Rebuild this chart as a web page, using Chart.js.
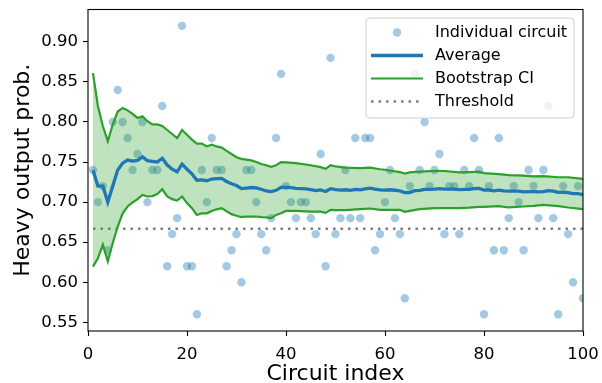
<!DOCTYPE html>
<html>
<head>
<meta charset="utf-8">
<script src="https://cdn.jsdelivr.net/npm/chart.js@4"></script>
<style>
  html, body { margin: 0; padding: 0; background: #fff; }
  #wrap { width: 602px; height: 383px; }
</style>
</head>
<body>
<div id="wrap"><canvas id="c" width="602" height="383"></canvas></div>
<script>
// ---- data ----
const circuitIndex = [1,2,3,4,5,6,7,8,9,10,11,12,13,14,15,16,17,18,19,20,21,22,23,24,25,26,27,28,29,30,31,32,33,34,35,36,37,38,39,40,41,42,43,44,45,46,47,48,49,50,51,52,53,54,55,56,57,58,59,60,61,62,63,64,65,66,67,68,69,70,71,72,73,74,75,76,77,78,79,80,81,82,83,84,85,86,87,88,89,90,91,92,93,94,95,96,97,98,99,100];
const heavyOutputProb = [
  0.74,0.70,0.72,0.64,0.80,0.84,0.80,0.78,0.74,0.76,
  0.80,0.70,0.74,0.74,0.82,0.62,0.66,0.68,0.92,0.62,
  0.62,0.56,0.74,0.70,0.78,0.74,0.74,0.62,0.64,0.66,
  0.60,0.74,0.74,0.70,0.66,0.64,0.68,0.78,0.86,0.72,
  0.70,0.68,0.70,0.70,0.68,0.66,0.76,0.62,0.88,0.66,
  0.68,0.74,0.68,0.78,0.68,0.78,0.78,0.64,0.66,0.70,
  0.74,0.68,0.66,0.58,0.72,0.86,0.74,0.80,0.72,0.74,
  0.76,0.66,0.72,0.72,0.66,0.74,0.72,0.78,0.74,0.56,
  0.72,0.64,0.78,0.64,0.68,0.72,0.70,0.64,0.74,0.72,
  0.68,0.74,0.82,0.68,0.56,0.72,0.66,0.60,0.72,0.58
];
const averageProb = [
  0.7400,0.7200,0.7200,0.7000,0.7200,0.7400,0.7486,0.7525,0.7511,0.7520,
  0.7564,0.7517,0.7508,0.7500,0.7547,0.7463,0.7412,0.7378,0.7474,0.7410,
  0.7352,0.7273,0.7278,0.7267,0.7288,0.7292,0.7296,0.7257,0.7228,0.7207,
  0.7168,0.7175,0.7182,0.7176,0.7160,0.7139,0.7130,0.7147,0.7185,0.7185,
  0.7180,0.7171,0.7167,0.7164,0.7156,0.7143,0.7153,0.7133,0.7167,0.7156,
  0.7149,0.7154,0.7147,0.7159,0.7153,0.7164,0.7175,0.7162,0.7153,0.7150,
  0.7154,0.7148,0.7140,0.7119,0.7120,0.7142,0.7146,0.7159,0.7159,0.7163,
  0.7169,0.7161,0.7162,0.7162,0.7155,0.7158,0.7158,0.7167,0.7170,0.7150,
  0.7151,0.7141,0.7149,0.7140,0.7136,0.7137,0.7136,0.7127,0.7130,0.7131,
  0.7127,0.7130,0.7142,0.7138,0.7122,0.7123,0.7118,0.7106,0.7107,0.7094
];
const ciIndex = [1,2,3,4,5,6,7,8,9,10,11,12,13,14,15,16,17,18,19,20,21,22,23,24,25,26,27,28,29,30,31,32,33,34,35,36,37,38,39,40,
  42,45,47,48,49,50,52,55,57,59,60,63,64,65,67,70,72,75,77,79,80,83,85,88,90,92,95,97,100];
const ciUpper = [
  0.861,0.820,0.795,0.776,0.797,0.813,0.8175,0.8145,0.810,0.805,
  0.807,0.801,0.797,0.797,0.795,0.790,0.785,0.780,0.790,0.784,
  0.778,0.773,0.773,0.7695,0.7716,0.7695,0.768,0.764,0.760,0.756,
  0.754,0.753,0.752,0.750,0.7475,0.746,0.744,0.746,0.750,0.7497,
  0.7487,0.746,0.7437,0.7416,0.746,0.7445,0.743,0.7425,0.743,0.741,
  0.7404,0.7375,0.7357,0.737,0.738,0.739,0.7388,0.737,0.7375,0.738,
  0.7362,0.735,0.7337,0.733,0.732,0.7325,0.731,0.731,0.729
];
const ciLower = [
  0.6195,0.630,0.647,0.626,0.649,0.6695,0.686,0.6945,0.6995,0.7037,
  0.709,0.707,0.7075,0.710,0.716,0.707,0.7037,0.702,0.707,0.6987,
  0.6925,0.684,0.686,0.686,0.689,0.691,0.6925,0.6886,0.685,0.683,
  0.6813,0.682,0.682,0.682,0.6813,0.681,0.680,0.684,0.686,0.689,
  0.689,0.688,0.688,0.6866,0.6904,0.690,0.690,0.6912,0.692,0.6904,
  0.6904,0.6904,0.6879,0.689,0.6912,0.6925,0.6925,0.6925,0.693,0.694,
  0.694,0.695,0.6933,0.6945,0.6954,0.6966,0.695,0.6933,0.6912
];
const thresholdX = [1, 100];
const thresholdValue = 0.6667;
const xTicks = [0, 20, 40, 60, 80, 100];
const yTicks = [0.55, 0.60, 0.65, 0.70, 0.75, 0.80, 0.85, 0.90];
const legendLabels = ['Individual circuit', 'Average', 'Bootstrap CI', 'Threshold'];

// ---- styles ----
const FONT = '"DejaVu Sans", "Liberation Sans", sans-serif';
const C0 = '#1f77b4', C2 = '#2ca02c';
const pointColor = 'rgba(31,119,180,0.4)';

const pts = (xs, ys) => xs.map((x, i) => ({ x: x, y: ys[i] }));

const framePlugin = {
  id: 'frame',
  afterDatasetsDraw(chart) {
    const a = chart.chartArea, ctx = chart.ctx;
    ctx.save();
    ctx.strokeStyle = '#000';
    ctx.lineWidth = 1.1;
    ctx.strokeRect(a.left, a.top, a.right - a.left, a.bottom - a.top);
    ctx.restore();
  }
};

const legendPlugin = {
  id: 'mplLegend',
  afterDatasetsDraw(chart) {
    const ctx = chart.ctx;
    const bx = 366, by = 18, bw = 208, bh = 100, r = 4;
    ctx.save();
    ctx.beginPath();
    ctx.moveTo(bx + r, by);
    ctx.arcTo(bx + bw, by, bx + bw, by + bh, r);
    ctx.arcTo(bx + bw, by + bh, bx, by + bh, r);
    ctx.arcTo(bx, by + bh, bx, by, r);
    ctx.arcTo(bx, by, bx + bw, by, r);
    ctx.closePath();
    ctx.fillStyle = 'rgba(255,255,255,0.8)';
    ctx.fill();
    ctx.strokeStyle = '#d0d0d0';
    ctx.lineWidth = 1;
    ctx.stroke();

    const hx0 = 371, hx1 = 423, tx = 435;
    const rows = [32.5, 55.5, 78.5, 101.5];
    ctx.fillStyle = pointColor;
    ctx.beginPath();
    ctx.arc((hx0 + hx1) / 2, rows[0], 4.2, 0, Math.PI * 2);
    ctx.fill();
    ctx.lineCap = 'butt';
    ctx.strokeStyle = C0; ctx.lineWidth = 3.3;
    ctx.beginPath(); ctx.moveTo(hx0, rows[1]); ctx.lineTo(hx1, rows[1]); ctx.stroke();
    ctx.strokeStyle = C2; ctx.lineWidth = 2.2;
    ctx.beginPath(); ctx.moveTo(hx0, rows[2]); ctx.lineTo(hx1, rows[2]); ctx.stroke();
    ctx.strokeStyle = '#808080'; ctx.lineWidth = 2.6;
    ctx.setLineDash([2.6, 4.9]);
    ctx.beginPath(); ctx.moveTo(hx0, rows[3]); ctx.lineTo(hx1, rows[3]); ctx.stroke();
    ctx.setLineDash([]);

    ctx.fillStyle = '#000';
    ctx.font = '16px ' + FONT;
    ctx.textBaseline = 'middle';
    ctx.textAlign = 'left';
    legendLabels.forEach((t, i) => ctx.fillText(t, tx, rows[i] + 0.5));
    ctx.restore();
  }
};

new Chart(document.getElementById('c'), {
  type: 'scatter',
  data: {
    datasets: [
      {
        label: legendLabels[1],
        data: pts(circuitIndex, averageProb),
        showLine: true, borderColor: C0, borderWidth: 3.3,
        pointRadius: 0, fill: false, tension: 0
      },
      {
        label: legendLabels[2],
        data: pts(ciIndex, ciUpper),
        showLine: true, borderColor: C2, borderWidth: 2.2,
        pointRadius: 0, fill: false, tension: 0
      },
      {
        label: legendLabels[2] + ' lower',
        data: pts(ciIndex, ciLower),
        showLine: true, borderColor: C2, borderWidth: 2.2,
        pointRadius: 0, tension: 0,
        fill: { target: '-1' }, backgroundColor: 'rgba(44,160,44,0.3)'
      },
      {
        label: legendLabels[3],
        data: pts(thresholdX, [thresholdValue, thresholdValue]),
        showLine: true, borderColor: '#808080', borderWidth: 2.6,
        borderDash: [2.6, 4.9], pointRadius: 0, fill: false
      },
      {
        label: legendLabels[0],
        data: pts(circuitIndex, heavyOutputProb),
        showLine: false, pointRadius: 4.2, pointBorderWidth: 0,
        pointBackgroundColor: pointColor, pointBorderColor: 'rgba(0,0,0,0)'
      }
    ]
  },
  options: {
    responsive: false,
    animation: false,
    devicePixelRatio: 1,
    layout: { padding: { left: 0, right: 19, top: 9.5, bottom: 0 } },
    plugins: { legend: { display: false }, tooltip: { enabled: false } },
    scales: {
      x: {
        type: 'linear', min: 0, max: 100,
        afterBuildTicks: s => { s.ticks = xTicks.map(v => ({ value: v })); },
        afterFit: s => { s.height = 52; s.paddingLeft = 0; s.paddingRight = 0; },
        grid: { display: true, drawOnChartArea: false, drawTicks: true, tickLength: 5, color: '#000', tickWidth: 1.1 },
        border: { display: false },
        ticks: { color: '#000', font: { family: FONT, size: 16.5 }, padding: 9, maxRotation: 0, autoSkip: false },
        title: { display: true, text: 'Circuit index', color: '#000', font: { family: FONT, size: 22 }, padding: { top: 0, bottom: -4 } }
      },
      y: {
        type: 'linear', min: 0.53913, max: 0.94038,
        afterBuildTicks: s => { s.ticks = yTicks.map(v => ({ value: v })); },
        afterFit: s => { s.width = 88; s.paddingTop = 0; s.paddingBottom = 0; },
        grid: { display: true, drawOnChartArea: false, drawTicks: true, tickLength: 5, color: '#000', tickWidth: 1.1 },
        border: { display: false },
        ticks: { color: '#000', font: { family: FONT, size: 16.5 }, padding: 5, autoSkip: false,
                 callback: v => Number(v).toFixed(2) },
        title: { display: true, text: 'Heavy output prob.', color: '#000', font: { family: FONT, size: 22 }, padding: { top: 10, bottom: 0 } }
      }
    }
  },
  plugins: [framePlugin, legendPlugin]
});
</script>
</body>
</html>
